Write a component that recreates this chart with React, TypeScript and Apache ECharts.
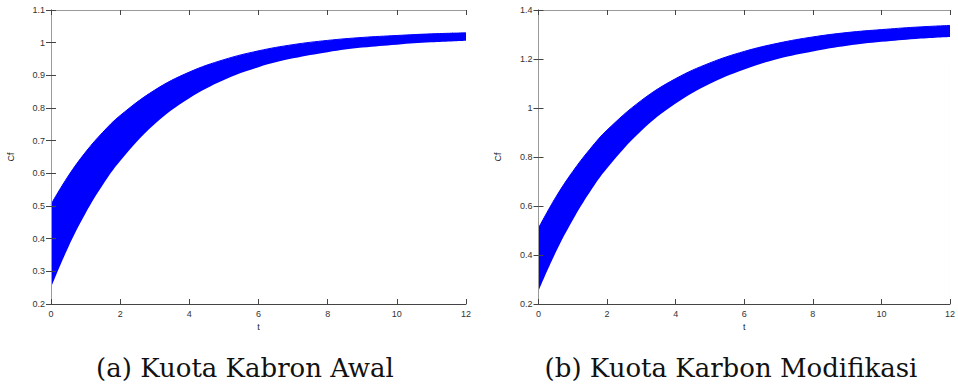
import React, { useEffect, useRef } from "react";
import * as echarts from "echarts";

const tValues = [0, 0.5, 1, 1.5, 2, 3, 4, 5, 6, 7, 8, 9, 10, 11, 12];
const awalUpper = [0.505, 0.592, 0.665, 0.726, 0.777, 0.855, 0.91, 0.948, 0.975, 0.994, 1.007, 1.016, 1.022, 1.027, 1.03];
const awalLower = [0.25, 0.374, 0.478, 0.565, 0.638, 0.751, 0.83, 0.886, 0.925, 0.952, 0.971, 0.985, 0.994, 1.001, 1.006];
const modUpper = [0.51, 0.635, 0.741, 0.832, 0.91, 1.031, 1.12, 1.184, 1.231, 1.265, 1.29, 1.308, 1.32, 1.33, 1.337];
const modLower = [0.253, 0.41, 0.543, 0.657, 0.754, 0.907, 1.018, 1.099, 1.157, 1.201, 1.231, 1.254, 1.27, 1.282, 1.29];
const captionA = "(a) Kuota Kabron Awal";
const captionB = "(b) Kuota Karbon Modifikasi";
const xTicks = { min: 0, max: 12, interval: 2 };
const yTicksA = { min: 0.2, max: 1.1, interval: 0.1 };
const yTicksB = { min: 0.2, max: 1.4, interval: 0.2 };

const DARK = "#444";
const LIGHT = "#9a9a9a";
const LABEL_FONT = "Liberation Sans";

function makeAxes(gridIndex: number, yT: { min: number; max: number; interval: number }) {
  const tick = { show: true, inside: true, length: 5, lineStyle: { color: DARK, width: 1 } };
  const xs = [
    {
      type: "value", gridIndex, position: "bottom", ...xTicks, z: 10,
      name: "t", nameLocation: "middle", nameGap: 18,
      nameTextStyle: { fontSize: 9, color: "#222", fontFamily: LABEL_FONT },
      axisLine: { show: true, lineStyle: { color: DARK, width: 1 } },
      axisTick: tick,
      axisLabel: { fontSize: 9, color: "#333", margin: 5, fontFamily: LABEL_FONT },
      splitLine: { show: false },
    },
    {
      type: "value", gridIndex, position: "top", ...xTicks, z: 10,
      axisLine: { show: true, lineStyle: { color: LIGHT, width: 1 } },
      axisTick: tick,
      axisLabel: { show: false },
      splitLine: { show: false },
    },
  ];
  const ys = [
    {
      type: "value", gridIndex, position: "left", ...yT, z: 10,
      name: "Cf", nameLocation: "middle", nameGap: 36, nameRotate: 90,
      nameTextStyle: { fontSize: 9, color: "#222", fontFamily: LABEL_FONT },
      axisLine: { show: true, lineStyle: { color: DARK, width: 1 } },
      axisTick: tick,
      axisLabel: { fontSize: 9, color: "#333", margin: 6, fontFamily: LABEL_FONT },
      splitLine: { show: false },
    },
    {
      type: "value", gridIndex, position: "right", ...yT, z: 10,
      axisLine: { show: true, lineStyle: { color: LIGHT, width: 1 } },
      axisTick: tick,
      axisLabel: { show: false },
      splitLine: { show: false },
    },
  ];
  return { xs, ys };
}

function bandSeries(idx: number, lower: number[], upper: number[]) {
  const upperData = tValues.map((t, i) => [t, upper[i]]);
  const lowerData = tValues.map((t, i) => [t, lower[i]]);
  return [
    {
      type: "line", xAxisIndex: idx * 2, yAxisIndex: idx * 2, data: upperData, z: 2,
      symbol: "none", smooth: 0.4,
      lineStyle: { color: "#0000ff", width: 1 },
      areaStyle: { color: "#0000ff", opacity: 1, origin: "start" },
      silent: true,
    },
    {
      type: "line", xAxisIndex: idx * 2, yAxisIndex: idx * 2, data: lowerData, z: 3,
      symbol: "none", smooth: 0.4,
      lineStyle: { color: "#0000ff", width: 0, opacity: 0 },
      areaStyle: { color: "#ffffff", opacity: 1, origin: "start" },
      silent: true,
    },
  ];
}

export default function App() {
  const ref = useRef<HTMLDivElement>(null);
  useEffect(() => {
    if (!ref.current) return;
    const chart = echarts.init(ref.current, undefined, { renderer: "svg" });
    const a = makeAxes(0, yTicksA);
    const b = makeAxes(1, yTicksB);
    chart.setOption({
      animation: false,
      backgroundColor: "#ffffff",
      grid: [
        { left: 51, top: 10, width: 415, height: 294 },
        { left: 538.5, top: 10, width: 414, height: 294 },
      ],
      xAxis: [...a.xs, ...b.xs],
      yAxis: [...a.ys, ...b.ys],
      series: [
        ...bandSeries(0, awalLower, awalUpper),
        ...bandSeries(1, modLower, modUpper),
      ],
      graphic: [
        {
          type: "text", x: 245, y: 368,
          style: {
            text: captionA, fontFamily: "DejaVu Serif", fontSize: 26, fill: "#111",
            align: "center", verticalAlign: "middle",
          },
        },
        {
          type: "text", x: 731, y: 368,
          style: {
            text: captionB, fontFamily: "DejaVu Serif", fontSize: 26, fill: "#111",
            align: "center", verticalAlign: "middle",
          },
        },
      ],
    });
    return () => chart.dispose();
  }, []);
  return (
    <div
      ref={ref}
      style={{ position: "absolute", left: 0, top: 0, width: 958, height: 385, background: "#fff" }}
    />
  );
}
